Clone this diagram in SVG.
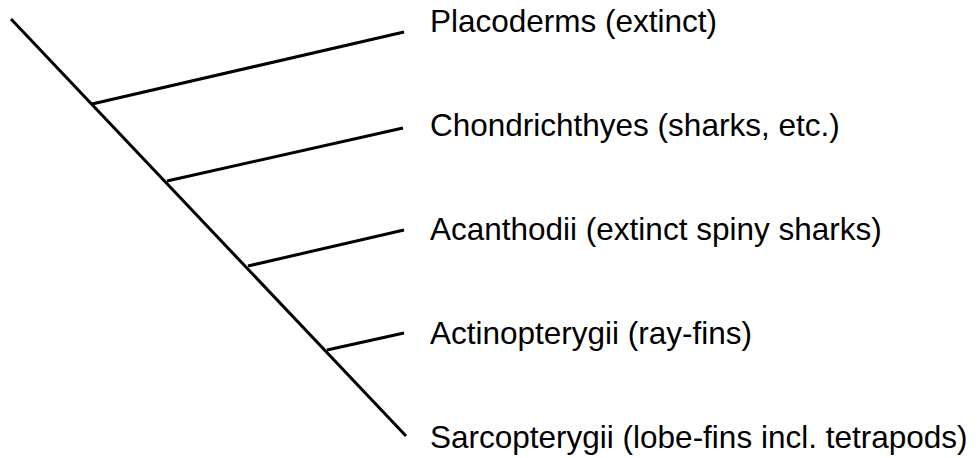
<svg xmlns="http://www.w3.org/2000/svg" width="979" height="458" viewBox="0 0 979 458">
<style>
.e{stroke:#000;stroke-width:3;fill:none;stroke-linecap:butt}
.t{font-family:"Liberation Sans",Arial,sans-serif;font-size:31.5px;fill:#000}
</style>
<rect width="979" height="458" fill="#fff"/>
<g id="connectors">
<line class="e" x1="11" y1="19" x2="406" y2="436"/>
<line class="e" x1="92" y1="104" x2="404" y2="32"/>
<line class="e" x1="167" y1="181" x2="403" y2="128"/>
<line class="e" x1="248" y1="266" x2="404" y2="230"/>
<line class="e" x1="327" y1="350" x2="404" y2="333"/>
</g>
<g id="placoderms"><text class="t" x="430" y="32">Placoderms (extinct)</text></g>
<g id="chondrichthyes"><text class="t" x="430" y="136">Chondrichthyes (sharks, etc.)</text></g>
<g id="acanthodii"><text class="t" x="430" y="240">Acanthodii (extinct spiny sharks)</text></g>
<g id="actinopterygii"><text class="t" x="430" y="344">Actinopterygii (ray-fins)</text></g>
<g id="sarcopterygii"><text class="t" x="430" y="448">Sarcopterygii (lobe-fins incl. tetrapods)</text></g>
</svg>
